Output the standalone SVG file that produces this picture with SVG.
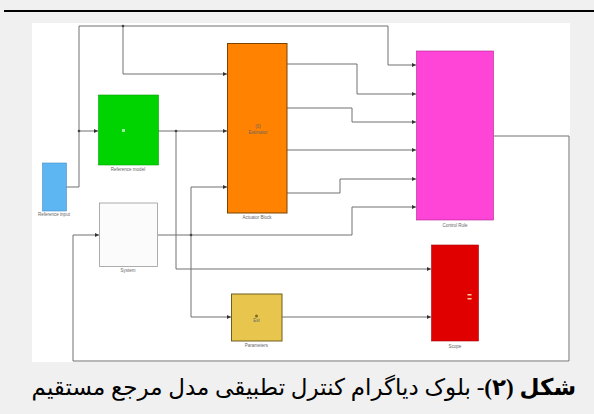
<svg xmlns="http://www.w3.org/2000/svg" width="594" height="414" viewBox="0 0 594 414">
<defs>
<marker id="arr" viewBox="0 0 6 6" refX="6" refY="3" markerWidth="4" markerHeight="4" orient="auto" markerUnits="userSpaceOnUse">
<path d="M0,0 L6,3 L0,6 z" fill="#333"/>
</marker>
<style>
.w{fill:none;stroke:#707070;stroke-width:1}
.j{fill:#444}
.lbl{font-family:"Liberation Sans",Arial,sans-serif;font-size:4.5px;fill:#666;text-anchor:middle}
.cap{font-family:"Liberation Serif","DejaVu Sans",serif;font-size:23px;fill:#000}
</style>
</defs>
<rect x="0" y="0" width="594" height="414" fill="#f0f0f0"/>
<rect x="4" y="10" width="590" height="2" fill="#000"/>
<rect x="32" y="23" width="538" height="339" fill="#ffffff"/>

<g id="connectors">
<polyline class="w" points="66,187 79,187 79,26 388,26 388,65 416,65" marker-end="url(#arr)"/>
<polyline class="w" points="79,131 98,131" marker-end="url(#arr)"/>
<polyline class="w" points="123,26 123,74 227,74" marker-end="url(#arr)"/>
<polyline class="w" points="158,131 227,131" marker-end="url(#arr)"/>
<polyline class="w" points="176,131 176,269 431,269" marker-end="url(#arr)"/>
<polyline class="w" points="158,235 352,235 352,207 416,207" marker-end="url(#arr)"/>
<polyline class="w" points="191,235 191,187 227,187" marker-end="url(#arr)"/>
<polyline class="w" points="191,235 191,317 231,317" marker-end="url(#arr)"/>
<polyline class="w" points="287,64 357,64 357,94 416,94" marker-end="url(#arr)"/>
<polyline class="w" points="287,108 352,108 352,122 416,122" marker-end="url(#arr)"/>
<polyline class="w" points="287,150 416,150" marker-end="url(#arr)"/>
<polyline class="w" points="287,193 340,193 340,179 416,179" marker-end="url(#arr)"/>
<polyline class="w" points="494,136 569,136 569,361 73,361 73,235 99,235" marker-end="url(#arr)"/>
<polyline class="w" points="282,317 431,317" marker-end="url(#arr)"/>
<circle class="j" cx="79" cy="131" r="1.3"/>
<circle class="j" cx="123" cy="26" r="1.3"/>
<circle class="j" cx="176" cy="131" r="1.3"/>
<circle class="j" cx="191" cy="235" r="1.3"/>
</g>

<g id="reference-input">
<rect x="42.5" y="163" width="24" height="48" fill="#5db6f2" stroke="#4a8fc0" stroke-width="0.6"/>
<text class="lbl" x="54" y="216">Reference input</text>
</g>

<g id="reference-model">
<rect x="98.5" y="95" width="60" height="70" fill="#00d400" stroke="#00a000" stroke-width="0.6"/>
<rect x="122" y="129" width="3" height="3" fill="#9cf09c"/>
<text class="lbl" x="128" y="171" fill="#7a4a9a">Reference model</text>
</g>

<g id="estimator">
<rect x="227.5" y="43.5" width="59.5" height="169.5" fill="#ff8200" stroke="#7a4400" stroke-width="1"/>
<text class="lbl" x="258" y="128" fill="#a04a00">(0)</text>
<text class="lbl" x="258" y="134" fill="#a04a00">Estimator</text>
<text class="lbl" x="257" y="219">Actuator Block</text>
</g>

<g id="control-rule">
<rect x="416.5" y="51" width="77" height="169" fill="#ff44d8" stroke="#b02090" stroke-width="0.6"/>
<text class="lbl" x="455" y="227">Control Rule</text>
</g>

<g id="system">
<rect x="99.5" y="203" width="58" height="63.5" fill="#fbfbfb" stroke="#9a9a9a" stroke-width="0.8"/>
<text class="lbl" x="128" y="272">System</text>
</g>

<g id="parameters">
<rect x="231.5" y="294" width="50.5" height="47" fill="#e8c64e" stroke="#6e5e1e" stroke-width="1"/>
<circle cx="256.5" cy="316" r="1.5" fill="#7a6a20"/>
<text class="lbl" x="256.5" y="322" fill="#7a6a20">Est</text>
<text class="lbl" x="256.5" y="347">Parameters</text>
</g>

<g id="scope">
<rect x="431.5" y="245" width="47" height="96" fill="#e00000" stroke="#b00000" stroke-width="0.6"/>
<rect x="467.5" y="294" width="4" height="1.5" fill="#ffd0a0"/>
<rect x="467.5" y="298" width="4" height="1.5" fill="#ffd0a0"/>
<text class="lbl" x="455" y="348">Scope</text>
</g>

<text class="cap" x="576" y="395" direction="rtl" text-anchor="start"><tspan font-weight="bold">شکل (۲)</tspan>- بلوک دیاگرام کنترل تطبیقی مدل مرجع مستقیم</text>
</svg>
